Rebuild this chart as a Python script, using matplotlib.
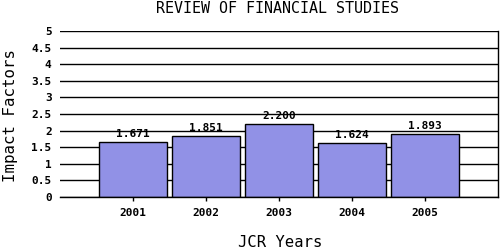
import matplotlib
matplotlib.use('Agg')
import matplotlib.pyplot as plt

years = ['2001', '2002', '2003', '2004', '2005']
impact = [1.671, 1.851, 2.200, 1.624, 1.893]
yticks = [0, 0.5, 1, 1.5, 2, 2.5, 3, 3.5, 4, 4.5, 5]

MONO = 'DejaVu Sans Mono'


def plot(out):
    fig = plt.figure(figsize=(5, 2.5), dpi=100)
    ax = fig.add_axes([0.12, 0.212, 0.876, 0.664])

    x = range(len(years))
    ax.bar(x, impact, width=0.92, color='#9191e6', edgecolor='black',
           linewidth=1, zorder=2)
    for i, v in zip(x, impact):
        ax.annotate('%.3f' % v, (i, v), xytext=(0, 2), textcoords='offset points',
                    ha='center', va='bottom', family=MONO,
                    fontsize=8, fontweight='bold', zorder=3)

    ax.set_xlim(-1, 5)
    ax.set_ylim(0, 5)
    ax.set_yticks(yticks)
    ax.set_yticklabels(['%g' % t for t in yticks])
    ax.set_xticks(list(x))
    ax.set_xticklabels(years)
    ax.grid(axis='y', color='black', linewidth=1, zorder=1)
    ax.set_axisbelow(True)

    ax.spines['left'].set_visible(False)
    ax.spines['top'].set_visible(False)
    for s in ['right', 'bottom']:
        ax.spines[s].set_linewidth(1)

    ax.tick_params(axis='y', length=0, pad=6)
    ax.tick_params(axis='x', length=3, width=1, pad=5)
    for lab in ax.get_xticklabels() + ax.get_yticklabels():
        lab.set_family(MONO)
        lab.set_fontsize(8)
        lab.set_fontweight('bold')

    fig.text(0.556, 0.966, 'REVIEW OF FINANCIAL STUDIES', ha='center', va='center',
             family=MONO, fontsize=10.8)
    fig.text(0.022, 0.54, 'Impact Factors', rotation=90, ha='center', va='center',
             family=MONO, fontsize=11.3)
    fig.text(0.56, 0.03, 'JCR Years', ha='center', va='center',
             family=MONO, fontsize=11.2)

    fig.savefig(out, dpi=100)


def main():
    plot('out.png')


if __name__ == '__main__':
    main()
